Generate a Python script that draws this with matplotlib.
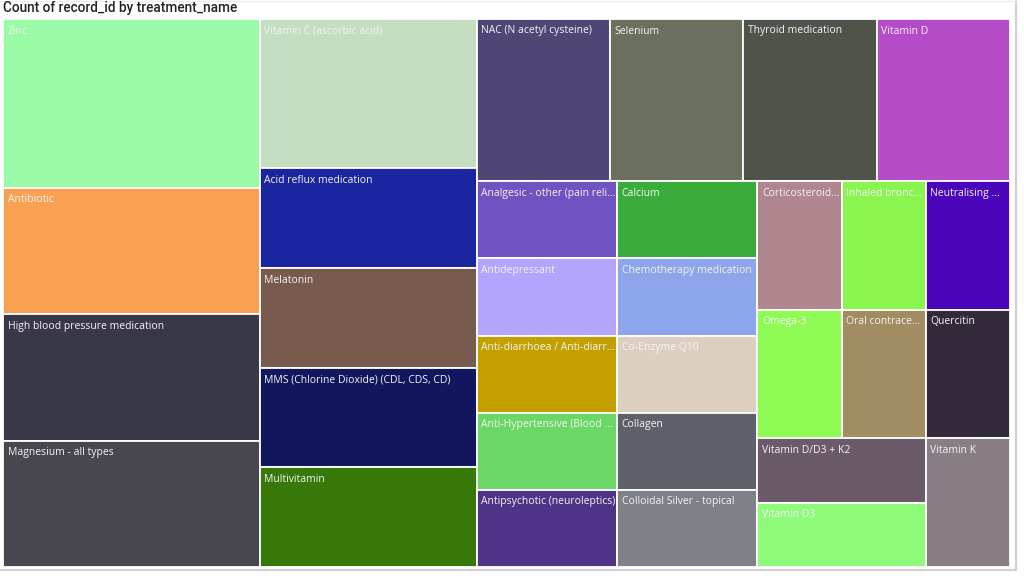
import matplotlib
matplotlib.use('Agg')
import matplotlib.pyplot as plt
from matplotlib.patches import Rectangle
from matplotlib.lines import Line2D

# Data: count of record_id per treatment (sorted as in the visual)
treatments = [
    'Zinc', 'Antibiotic', 'High blood pressure medication', 'Magnesium - all types',
    'Vitamin C (ascorbic acid)', 'Acid reflux medication', 'Melatonin',
    'MMS (Chlorine Dioxide) (CDL, CDS, CD)', 'Multivitamin', 'NAC (N acetyl cysteine)',
    'Selenium', 'Thyroid medication', 'Vitamin D',
    'Analgesic - other (pain reli...', 'Antidepressant', 'Anti-diarrhoea / Anti-diarr...',
    'Anti-Hypertensive (Blood ...', 'Antipsychotic (neuroleptics)', 'Calcium',
    'Chemotherapy medication', 'Co-Enzyme Q10', 'Collagen', 'Colloidal Silver - topical',
    'Corticosteroid...', 'Inhaled bronc...', 'Neutralising ...', 'Omega-3',
    'Oral contrace...', 'Quercitin', 'Vitamin D/D3 + K2', 'Vitamin D3', 'Vitamin K',
]
counts = [4, 3, 3, 3, 3, 2, 2, 2, 2, 2, 2, 2, 2,
          1, 1, 1, 1, 1, 1, 1, 1, 1, 1, 1, 1, 1, 1, 1, 1, 1, 1, 1]

palette = [
    '#99FBA5', '#F9A052', '#393849', '#48464F', '#C3DEC0', '#1B25A0', '#785A4E',
    '#12165D', '#387809', '#4F4676', '#6A6F5E', '#4E5449', '#B54BC6',
    '#7052C1', '#B3A5FE', '#C3A000', '#6BD764', '#4F3386', '#3BAC3C',
    '#8DA5EB', '#DDCFC0', '#5E6169', '#7F8188', '#B0868F', '#8AF54E',
    '#4A05BA', '#8FFB55', '#A28C62', '#32293A', '#6B5B68', '#8EFB7A', '#897D86',
]


def squarify(values, x0, y0, x1, y1, ratio=(1 + 5 ** 0.5) / 2):
    # d3-style squarified layout (golden ratio target)
    rects = []
    value = float(sum(values))
    n = len(values)
    i0 = 0
    while i0 < n:
        dx, dy = x1 - x0, y1 - y0
        i1 = i0
        s = values[i1]
        i1 += 1
        vmin = vmax = s
        alpha = max(dy / dx, dx / dy) / (value * ratio)
        beta = s * s * alpha
        best = max(vmax / beta, beta / vmin)
        while i1 < n:
            v = values[i1]
            s2 = s + v
            mn, mx = min(vmin, v), max(vmax, v)
            beta = s2 * s2 * alpha
            r = max(mx / beta, beta / mn)
            if r > best:
                break
            s, vmin, vmax, best = s2, mn, mx, r
            i1 += 1
        row = values[i0:i1]
        if dx < dy:
            # row across the top
            h = dy * s / value
            xx = x0
            for v in row:
                w = dx * v / s
                rects.append((xx, y0, w, h))
                xx += w
            y0 += h
        else:
            # column on the left
            w = dx * s / value
            yy = y0
            for v in row:
                h = dy * v / s
                rects.append((x0, yy, w, h))
                yy += h
            x0 += w
        value -= s
        i0 = i1
    return rects


W, H = 1007.0, 548.0
fig = plt.figure(figsize=(10.24, 5.76), dpi=100)
ax = fig.add_axes([3 / 1024, 1 - 567 / 576, W / 1024, H / 576])
ax.set_xlim(0, W)
ax.set_ylim(H, 0)
ax.axis('off')

for name, col, (x, y, w, h) in zip(treatments, palette, squarify(counts, 0, 0, W, H)):
    ax.add_patch(Rectangle((x, y), w, h, facecolor=col, edgecolor='white', linewidth=1.3))
    ax.text(x + 4.5, y + 6.5, name, color='#F4F4F4', fontsize=7.5, family=['Open Sans', 'DejaVu Sans'],
            ha='left', va='top')

fig.text(3 / 1024, 1 - 8 / 576, 'Count of record_id by treatment_name', fontsize=9.8,
         family=['Roboto', 'DejaVu Sans'], fontweight='medium', color='#252423',
         ha='left', va='center')

# faint frame of the visual container
fig.add_artist(Line2D([1016 / 1024, 1016 / 1024], [1 - 570 / 576, 1], color='#D0D0D0', lw=1.5))
fig.add_artist(Line2D([0, 1016 / 1024], [1 - 570 / 576, 1 - 570 / 576], color='#D0D0D0', lw=1.5))
fig.add_artist(Line2D([0, 1016 / 1024], [1 - 0.5 / 576, 1 - 0.5 / 576], color='#EBEBEB', lw=1))

fig.savefig('out.png', dpi=100, facecolor='white')
